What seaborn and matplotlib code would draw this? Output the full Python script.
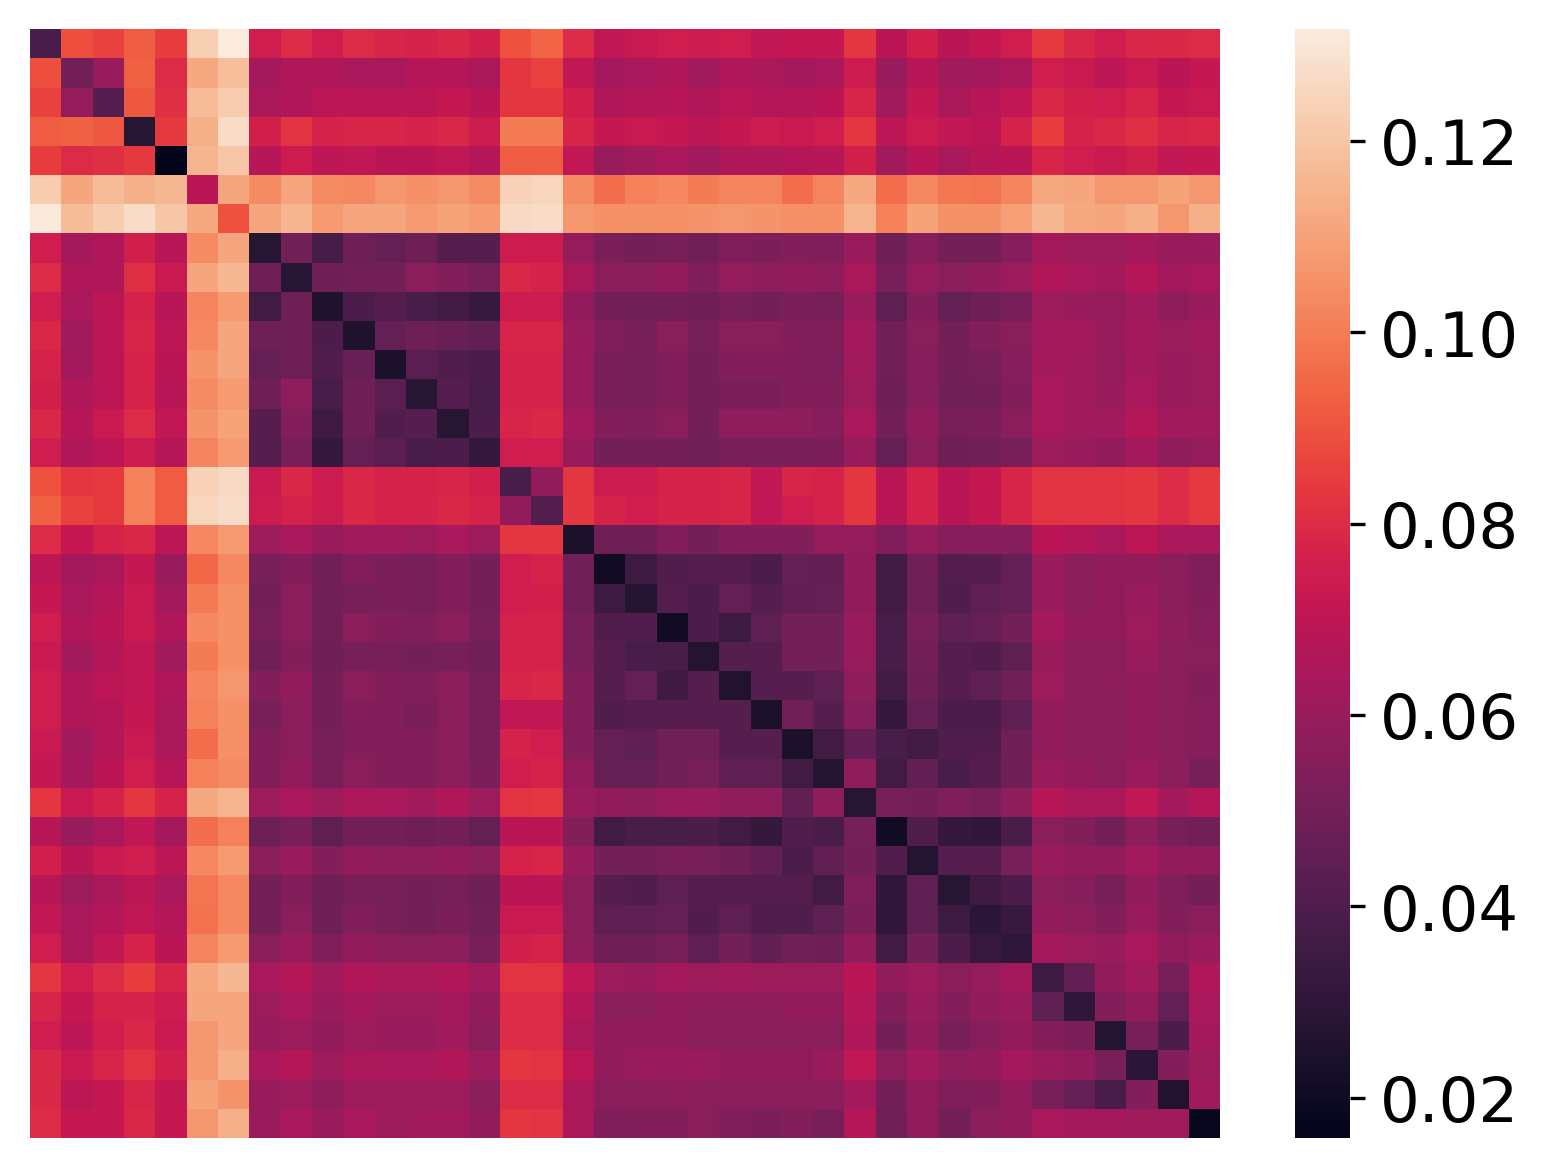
import numpy as np
import matplotlib
matplotlib.use("Agg")
import matplotlib.pyplot as plt
import seaborn as sns

# valores (x 1e-3), agrupados por bloque de filas
grupo_a = [  # filas 0-4
    [38, 89, 86, 92, 85, 123, 131.7, 75, 80, 75, 80, 78, 77, 79, 76, 90, 94, 80, 71, 73, 75, 74, 75, 71, 72, 72, 83, 69, 76, 69, 72, 75, 84, 79, 75, 79, 79, 80],
    [89, 50, 60, 93, 80, 112, 118, 63, 66, 66, 64, 64, 67, 67, 65, 83, 86, 71, 63, 64, 66, 62, 66, 65, 63, 64, 74, 60, 68, 62, 63, 65, 75, 73, 70, 73, 69, 72],
    [86, 59, 42, 91, 81, 117, 122, 65, 66, 70, 70, 70, 70, 72, 69, 83, 83, 76, 66, 67, 68, 66, 70, 67, 67, 69, 78, 62, 72, 65, 68, 71, 79, 76, 75, 78, 72, 73],
    [92, 93, 91, 28, 84, 114, 127, 76, 82, 77, 78, 78, 77, 79, 74, 100, 100, 78, 72, 73, 72, 70, 72, 74, 73, 75, 83, 70, 74, 71, 70, 77, 85, 77, 79, 81, 78, 79],
    [85, 80, 81, 84, 15.8, 115, 120, 68, 74, 70, 71, 69, 69, 71, 67, 92, 92, 71, 60, 62, 65, 62, 66, 66, 67, 68, 76, 62, 69, 64, 68, 69, 78, 75, 73, 76, 71, 72],
]
grupo_b = [  # filas 5-6
    [122, 111, 117, 114, 116, 69, 111, 104, 111, 104, 103, 107, 105, 107, 104, 124, 125, 104, 96, 101, 103, 100, 102, 102, 96, 102, 112, 96, 103, 99, 98, 102, 112, 111, 107, 107, 110, 107],
    [131, 117, 122, 127, 120, 112, 90, 111, 115, 108, 111, 111, 108, 110, 108, 126, 127, 107, 105, 105, 105, 106, 107, 106, 105, 105, 115, 101, 110, 105, 105, 109, 116, 112, 111, 114, 107, 114],
]
grupo_c = [  # filas 7-14
    [75, 63, 66, 76, 68, 104, 111, 28, 49, 37, 48, 46, 48, 42, 42, 74, 74, 59, 52, 50, 51, 49, 53, 52, 54, 53, 60, 48, 55, 50, 50, 55, 63, 61, 61, 63, 60, 60],
    [80, 66, 66, 81, 73, 111, 116, 48, 28, 48, 50, 50, 56, 54, 51, 79, 77, 65, 56, 56, 58, 53, 59, 57, 58, 57, 65, 51, 59, 56, 58, 61, 66, 64, 63, 67, 63, 64],
    [75, 64, 70, 77, 68, 102, 108, 36, 48, 25, 39, 42, 38, 36, 33, 74, 74, 58, 50, 49, 50, 48, 51, 50, 52, 51, 60, 44, 54, 46, 48, 51, 61, 60, 59, 62, 57, 60],
    [79, 62, 70, 78, 70, 103, 111, 48, 48, 39, 25, 46, 48, 47, 45, 78, 78, 60, 53, 51, 56, 51, 56, 56, 54, 54, 63, 49, 56, 50, 54, 56, 63, 63, 60, 63, 61, 62],
    [77, 63, 70, 77, 69, 106, 111, 46, 48, 40, 47, 24, 43, 40, 39, 77, 77, 60, 51, 51, 54, 50, 54, 54, 54, 53, 62, 49, 55, 50, 51, 55, 63, 62, 59, 63, 60, 61],
    [76, 66, 70, 77, 68, 104, 108, 48, 57, 38, 48, 43, 28, 42, 38, 77, 77, 60, 51, 51, 54, 50, 52, 52, 54, 54, 61, 48, 55, 49, 50, 54, 64, 62, 60, 64, 60, 61],
    [79, 68, 73, 80, 71, 106, 110, 42, 54, 35, 48, 40, 42, 28, 39, 78, 79, 63, 54, 53, 56, 50, 57, 57, 57, 55, 64, 50, 58, 51, 52, 56, 64, 62, 62, 67, 62, 62],
    [75, 66, 70, 74, 67, 102, 108, 42, 51, 32, 46, 43, 38, 39, 32, 75, 75, 60, 50, 50, 50, 49, 51, 51, 51, 52, 60, 46, 56, 48, 49, 51, 61, 60, 58, 63, 57, 59],
]
grupo_d = [  # filas 15-16
    [90, 83, 84, 101, 92, 124, 126, 73, 79, 74, 79, 77, 77, 78, 76, 38, 58, 83, 74, 74, 77, 77, 78, 71, 78, 77, 83, 69, 77, 69, 72, 78, 82, 82, 82, 83, 80, 84],
    [93, 86, 84, 101, 92, 125, 127, 74, 77, 74, 79, 77, 77, 79, 77, 58, 41, 83, 77, 75, 77, 77, 78, 71, 75, 77, 83, 69, 77, 69, 72, 78, 82, 82, 82, 83, 80, 84],
]
grupo_e = [  # filas 17-25
    [80, 72, 77, 79, 70, 103, 108, 61, 64, 60, 62, 62, 61, 64, 61, 83, 83, 24, 48, 48, 54, 50, 54, 54, 54, 59, 59, 53, 59, 55, 55, 55, 69, 67, 64, 70, 64, 64],
    [70, 63, 65, 72, 60, 95, 103, 51, 54, 49, 54, 52, 51, 54, 50, 75, 77, 49, 21, 34, 40, 42, 42, 39, 46, 45, 58, 36, 49, 41, 42, 46, 60, 56, 58, 58, 56, 53],
    [72, 64, 67, 73, 63, 100, 105, 50, 56, 49, 51, 52, 51, 54, 50, 75, 76, 49, 34, 27, 41, 39, 46, 42, 45, 46, 58, 36, 49, 40, 44, 46, 60, 56, 58, 60, 56, 54],
    [75, 66, 69, 73, 66, 103, 105, 51, 56, 49, 56, 54, 53, 56, 51, 77, 77, 51, 40, 40, 21, 39, 34, 44, 50, 50, 60, 38, 51, 44, 46, 50, 63, 58, 58, 61, 57, 55],
    [73, 62, 67, 71, 62, 100, 105, 49, 54, 48, 51, 51, 50, 51, 49, 77, 77, 51, 42, 38, 38, 27, 42, 42, 50, 50, 60, 38, 50, 42, 40, 44, 60, 56, 56, 60, 56, 56],
    [75, 66, 70, 71, 66, 102, 107, 54, 58, 50, 56, 54, 53, 56, 51, 78, 79, 54, 42, 46, 35, 42, 26, 42, 42, 44, 57, 36, 48, 42, 44, 49, 61, 56, 57, 58, 56, 54],
    [75, 66, 67, 72, 65, 101, 105, 51, 56, 50, 54, 54, 52, 56, 51, 71, 71, 54, 40, 42, 42, 42, 42, 24, 49, 42, 55, 32, 46, 39, 39, 44, 58, 56, 56, 58, 56, 55],
    [73, 62, 67, 73, 65, 96, 105, 54, 56, 51, 54, 54, 54, 56, 51, 77, 75, 54, 46, 44, 49, 49, 42, 42, 24, 36, 45, 38, 36, 40, 40, 48, 58, 56, 56, 58, 56, 55],
    [72, 63, 69, 75, 68, 101, 104, 54, 58, 51, 56, 54, 54, 56, 52, 75, 77, 58, 46, 46, 49, 51, 44, 44, 36, 27, 57, 36, 45, 38, 42, 48, 60, 58, 56, 60, 56, 51],
]
fila_26 = [
    [83, 73, 77, 83, 77, 112, 115, 61, 64, 61, 65, 64, 62, 66, 61, 82, 83, 60, 58, 57, 60, 60, 57, 57, 45, 57, 28, 51, 50, 53, 51, 57, 68, 65, 65, 71, 63, 67],
]
grupo_f = [  # filas 27-31
    [68, 60, 64, 71, 63, 96, 101, 48, 51, 44, 50, 50, 48, 50, 46, 69, 69, 54, 36, 38, 38, 39, 36, 32, 40, 38, 51, 21, 40, 32, 31, 38, 56, 54, 50, 57, 51, 49],
    [76, 69, 73, 75, 70, 103, 108, 56, 60, 54, 58, 57, 57, 58, 56, 77, 78, 60, 50, 50, 52, 51, 48, 45, 39, 45, 50, 40, 27, 42, 42, 51, 60, 58, 58, 62, 58, 58],
    [68, 61, 65, 70, 64, 98, 103, 50, 54, 48, 51, 51, 50, 51, 48, 69, 69, 56, 42, 40, 44, 42, 42, 41, 41, 36, 53, 31, 44, 28, 35, 39, 56, 55, 51, 58, 53, 50],
    [71, 64, 67, 71, 67, 97, 103, 50, 56, 48, 54, 51, 50, 52, 49, 73, 73, 56, 44, 44, 46, 40, 44, 40, 40, 44, 52, 31, 44, 34, 29, 33, 58, 57, 54, 60, 54, 56],
    [75, 65, 71, 77, 69, 102, 108, 56, 60, 53, 58, 56, 56, 56, 51, 76, 77, 57, 48, 48, 51, 44, 50, 45, 49, 48, 58, 36, 50, 39, 33, 30, 63, 61, 60, 64, 58, 60],
]
grupo_g = [  # filas 32-37
    [83, 75, 80, 85, 78, 112, 116, 64, 67, 62, 66, 65, 65, 66, 62, 82, 82, 71, 61, 60, 63, 61, 62, 61, 61, 61, 69, 58, 61, 56, 59, 63, 34, 45, 58, 62, 51, 66],
    [78, 72, 77, 77, 74, 111, 111, 61, 64, 60, 63, 61, 61, 63, 58, 80, 80, 67, 56, 56, 58, 57, 57, 57, 58, 58, 67, 54, 60, 54, 58, 60, 44, 30, 54, 58, 46, 64],
    [75, 70, 75, 79, 73, 107, 111, 60, 61, 58, 61, 60, 60, 62, 56, 80, 80, 65, 58, 58, 58, 56, 56, 56, 56, 56, 66, 50, 58, 51, 55, 58, 54, 52, 27, 51, 39, 63],
    [79, 73, 78, 82, 76, 107, 114, 64, 67, 61, 65, 64, 64, 66, 61, 83, 82, 70, 58, 60, 60, 60, 58, 58, 58, 60, 71, 56, 62, 57, 58, 63, 60, 58, 51, 29, 54, 61],
    [79, 70, 72, 78, 72, 110, 106, 60, 61, 57, 61, 61, 61, 61, 56, 80, 80, 65, 56, 56, 57, 56, 56, 56, 56, 56, 63, 50, 58, 53, 54, 58, 51, 46, 38, 54, 26, 62],
    [80, 72, 72, 79, 72, 107, 114, 60, 64, 60, 64, 61, 62, 62, 58, 83, 82, 65, 53, 54, 54, 56, 53, 52, 54, 51, 67, 49, 58, 50, 56, 58, 64, 63, 63, 62, 62, 18],
]

matriz = np.vstack([grupo_a, grupo_b, grupo_c, grupo_d, grupo_e,
                    fila_26, grupo_f, grupo_g]) / 1000.0

plt.rcParams['font.size'] = 15

fig = plt.figure(figsize=(6.4, 4.8))
ax = sns.heatmap(matriz, xticklabels=False, yticklabels=False)
fig.savefig("out.png", dpi=300, bbox_inches="tight")
